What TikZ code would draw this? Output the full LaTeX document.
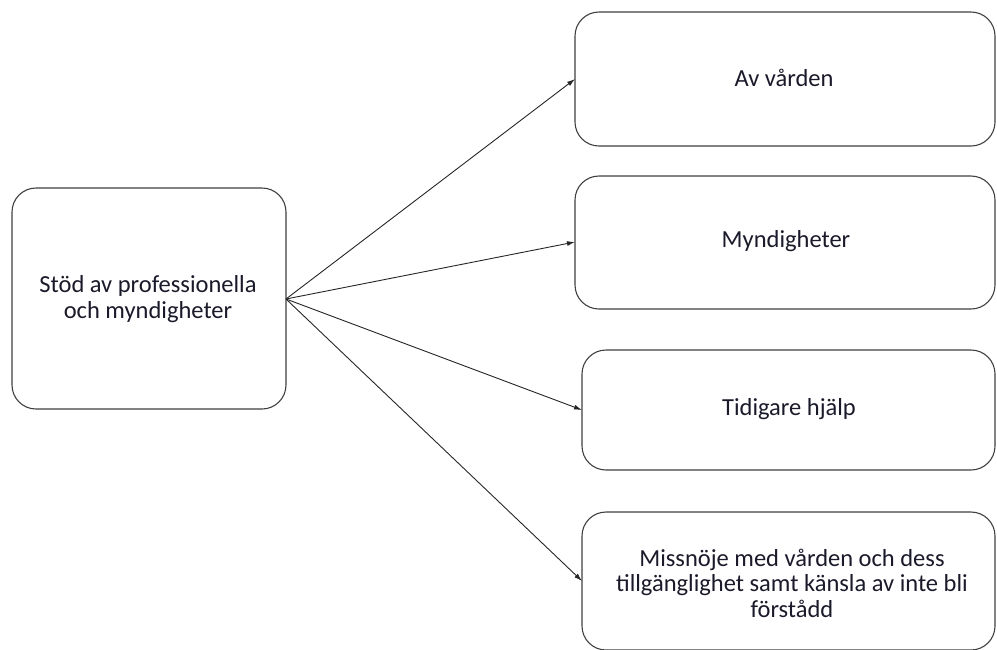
\documentclass[tikz,border=0pt]{standalone}
\usepackage{fontspec}
\setmainfont{Carlito}
\usetikzlibrary{arrows.meta}
\definecolor{boxline}{HTML}{404040}
\definecolor{txt}{HTML}{1A1A2A}
\tikzset{
  rbox/.style={draw=boxline, line width=1.1pt, rounded corners=24pt, fill=white, inner sep=0pt},
  lbl/.style={font=\fontsize{24.5}{25.5}\selectfont, text=txt, align=center},
  conn/.style={draw=black!85, line width=0.9pt, -{Latex[length=8pt,width=5pt]}}
}
\begin{document}
\begin{tikzpicture}[x=1pt,y=-1pt]
\useasboundingbox (0,0) rectangle (997,649);
% boxes
\draw[rbox] (12,188) rectangle (286,409);
\draw[rbox] (575,12) rectangle (995,146);
\draw[rbox] (575,176) rectangle (995,309);
\draw[rbox] (582,350) rectangle (995,470);
\draw[rbox] (582,512) rectangle (995,650);
% anchors as nodes
\node[inner sep=0pt, minimum size=0pt] (src) at (286,299) {};
\node[inner sep=0pt, minimum size=0pt] (t1) at (575,79) {};
\node[inner sep=0pt, minimum size=0pt] (t2) at (575,242) {};
\node[inner sep=0pt, minimum size=0pt] (t3) at (582,410) {};
\node[inner sep=0pt, minimum size=0pt] (t4) at (582,581) {};
% labels
\node[lbl] (l0) at (148,299) {Stöd av professionella\\och myndigheter};
\node[lbl] (l1) at (784,78) {Av vården};
\node[lbl] (l2) at (786,241) {Myndigheter};
\node[lbl] (l3) at (789,409) {Tidigare hjälp};
\node[lbl] (l4) at (792,583) {Missnöje med vården och dess\\tillgänglighet samt känsla av inte bli\\förstådd};
% connectors
\draw[conn] (src.center) -- (t1.center);
\draw[conn] (src.center) -- (t2.center);
\draw[conn] (src.center) -- (t3.center);
\draw[conn] (src.center) -- (t4.center);
\end{tikzpicture}
\end{document}
